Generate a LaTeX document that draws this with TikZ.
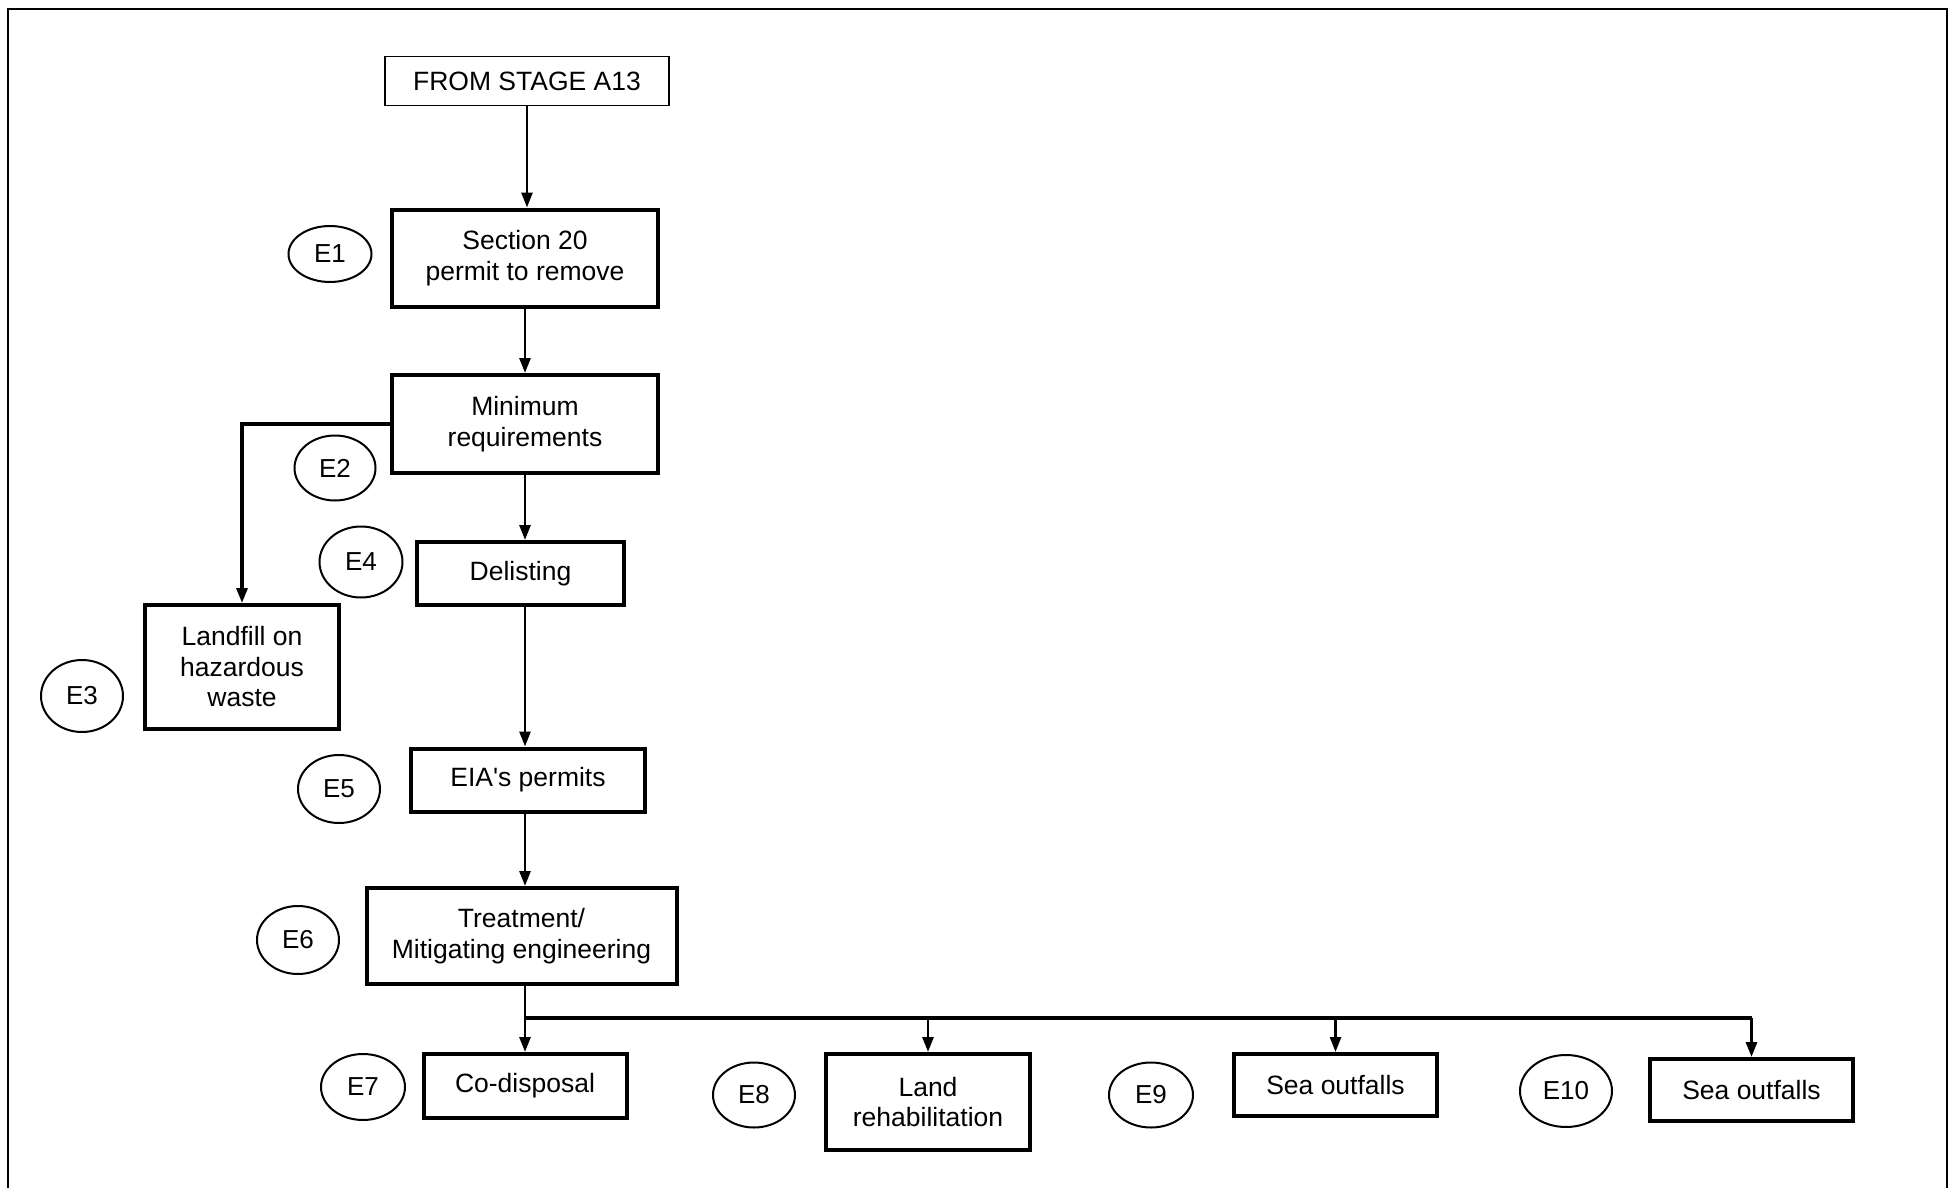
\documentclass[tikz,border=0pt]{standalone}
\usepackage{fontspec}
\setmainfont{Liberation Sans}
\usetikzlibrary{arrows.meta,shapes.geometric}
\newcommand\mainfnt{\fontsize{26.5}{30.5}\selectfont}
\newcommand\labfnt{\fontsize{26}{30}\selectfont}
\begin{document}
\begin{tikzpicture}[x=1pt,y=-1pt,
  box/.style={draw, line width=4pt, align=center, inner sep=0pt, font=\mainfnt},
  thinbox/.style={draw, line width=1.6pt, align=center, inner sep=0pt, font=\mainfnt},
  lab/.style={draw, ellipse, line width=2pt, inner sep=0pt, font=\labfnt},
  arr/.style={line width=2.7pt, -{Triangle[length=15pt,width=11pt]}},
  conn/.style={line width=2.7pt},
  busline/.style={line width=3.5pt},
]
\useasboundingbox (0,0) rectangle (1955,1188);
\draw[line width=2.5pt] (8,1200) -- (8,9) -- (1947,9) -- (1947,1200);

% boxes
\node[thinbox, minimum width=284pt, minimum height=49pt] (from) at (527,81) {FROM STAGE A13};
\node[box, minimum width=266pt, minimum height=97pt] (sec) at (525,258) {Section 20\\permit to remove};
\node[box, minimum width=266pt, minimum height=98pt] (minr) at (525,424) {Minimum\\requirements};
\node[box, minimum width=207pt, minimum height=63pt] (delist) at (520.5,573.5) {Delisting};
\node[box, minimum width=194pt, minimum height=124pt] (landfill) at (242,667) {Landfill on\\hazardous\\waste};
\node[box, minimum width=234pt, minimum height=63pt] (eia) at (528,780) {EIA\textquotesingle s permits};
\node[box, minimum width=310pt, minimum height=96pt] (treat) at (521.5,936) {Treatment/\\Mitigating engineering};
\node[box, minimum width=203pt, minimum height=64pt] (codisp) at (525,1086) {Co-disposal};
\node[box, minimum width=204pt, minimum height=96pt] (land) at (928,1102) {Land\\rehabilitation};
\node[box, minimum width=203pt, minimum height=62pt] (sea1) at (1335.5,1085) {Sea outfalls};
\node[box, minimum width=203pt, minimum height=62pt] (sea2) at (1751.5,1090) {Sea outfalls};

% labels
\node[lab, minimum width=83pt, minimum height=56pt] (e1) at (330,254) {E1};
\node[lab, minimum width=81pt, minimum height=65pt] (e2) at (335,468) {E2};
\node[lab, minimum width=82pt, minimum height=72pt] (e3) at (82,696) {E3};
\node[lab, minimum width=83pt, minimum height=71pt] (e4) at (361,562) {E4};
\node[lab, minimum width=82pt, minimum height=68pt] (e5) at (339,789) {E5};
\node[lab, minimum width=82pt, minimum height=68pt] (e6) at (298,940) {E6};
\node[lab, minimum width=84pt, minimum height=66pt] (e7) at (363,1087) {E7};
\node[lab, minimum width=82pt, minimum height=65pt] (e8) at (754,1095) {E8};
\node[lab, minimum width=84pt, minimum height=65pt] (e9) at (1151,1095) {E9};
\node[lab, minimum width=92pt, minimum height=72pt] (e10) at (1566,1091) {E10};

% connectors
\draw[arr] (from.south) -- (from.south |- sec.north);
\draw[arr] (sec.south) -- (minr.north);
\draw[arr] (minr.south) -- (minr.south |- delist.north);
\draw[arr, line width=3.2pt] (minr.west) -| (landfill.north);
\draw[arr] (minr.south |- delist.south) -- (minr.south |- eia.north);
\draw[arr] (minr.south |- eia.south) -- (minr.south |- treat.north);
\coordinate (bus) at (525,1018);
\draw[conn] (treat.south -| bus) -- (bus);
\draw[busline] (bus) -- (bus -| sea2.north);
\draw[arr] (bus) -- (codisp.north);
\draw[arr] (bus -| land.north) -- (land.north);
\draw[arr] (bus -| sea1.north) -- (sea1.north);
\draw[arr, line width=3pt] (bus -| sea2.north) -- (sea2.north);
\end{tikzpicture}
\end{document}
